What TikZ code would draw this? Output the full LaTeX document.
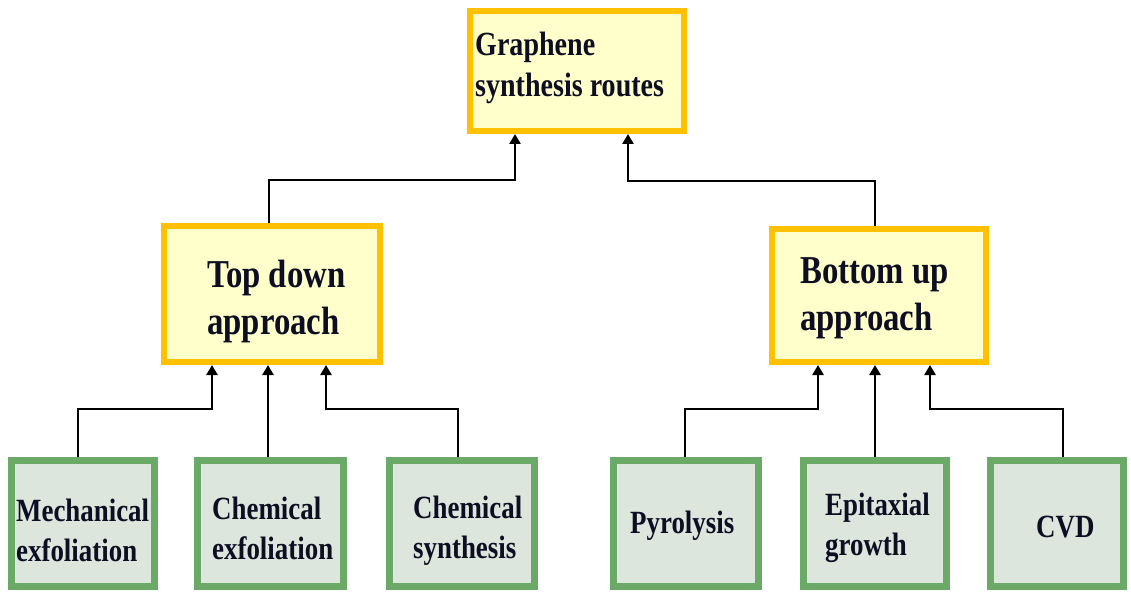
\documentclass[tikz,border=0pt]{standalone}
\usepackage{fontspec}
\setmainfont{Liberation Serif}[FakeStretch=0.83]
\usetikzlibrary{arrows.meta}
\definecolor{ybord}{HTML}{FFC000}
\definecolor{yfill}{HTML}{FFFFCC}
\definecolor{gbord}{HTML}{6AAA66}
\definecolor{gfill}{HTML}{DDE6DD}
\definecolor{ink}{HTML}{0E0E22}
\tikzset{
  ybox/.style={draw=ybord, fill=yfill, line width=6pt, inner sep=0pt},
  gbox/.style={draw=gbord, fill=gfill, line width=7pt, inner sep=0pt,
    minimum height=126},
  words/.style={anchor=west, inner sep=0pt, align=left, text=ink},
  rootfont/.style={font=\fontsize{33.8}{41}\selectfont\bfseries},
  midfont/.style={font=\fontsize{39.5}{47}\selectfont\bfseries},
  leaffont/.style={font=\fontsize{32.4}{40}\selectfont\bfseries},
  link/.style={draw=black, line width=2.6pt,
    -{Triangle[length=10pt,width=11pt]}},
}
\begin{document}
\begin{tikzpicture}[x=1pt,y=-1pt]
\useasboundingbox (0,0) rectangle (1131,593);

% boxes
\node[ybox, minimum width=214, minimum height=120] (root) at (577,71) {};
\node[ybox, minimum width=216, minimum height=136] (td) at (272,294) {};
\node[ybox, minimum width=214, minimum height=133] (bu) at (879,295.5) {};
\node[gbox, minimum width=143] (b1) at (83,523.5) {};
\node[gbox, minimum width=146] (b2) at (270.5,523.5) {};
\node[gbox, minimum width=145] (b3) at (462,523.5) {};
\node[gbox, minimum width=145] (b4) at (686,523.5) {};
\node[gbox, minimum width=143] (b5) at (875,523.5) {};
\node[gbox, minimum width=133] (b6) at (1057,523.5) {};

% box texts
\node[words, rootfont] (rootT) at (475,68) {Graphene\\synthesis routes};
\node[words, midfont] (tdT) at (207,301.5) {Top down\\approach};
\node[words, midfont] (buT) at (800,298) {Bottom up\\approach};
\node[words, leaffont] (b1T) at (16,530) {Mechanical\\exfoliation};
\node[words, leaffont] (b2T) at (212,528) {Chemical\\exfoliation};
\node[words, leaffont] (b3T) at (413,531) {Chemical\\synthesis};
\node[words, leaffont] (b4T) at (630,526) {Pyrolysis};
\node[words, leaffont] (b5T) at (825,528) {Epitaxial\\growth};
\node[words, leaffont] (b6T) at (1036,527) {CVD};

% approaches to root
\draw[link] ([xshift=-3]td.north) -- ++(0,-43) -| ([xshift=-62]root.south);
\draw[link] ([xshift=-4]bu.north) -- ++(0,-45) -| ([xshift=51]root.south);

% methods to top down
\draw[link] ([xshift=-5]b1.north) -- ++(0,-48) -| ([xshift=-60]td.south);
\draw[link] ([xshift=-2.5]b2.north) -- ([xshift=-4]td.south);
\draw[link] ([xshift=-4]b3.north) -- ++(0,-48) -| ([xshift=54]td.south);

% methods to bottom up
\draw[link] ([xshift=-1]b4.north) -- ++(0,-48) -| ([xshift=-61]bu.south);
\draw[link] (b5.north) -- ([xshift=-4]bu.south);
\draw[link] ([xshift=6]b6.north) -- ++(0,-48) -| ([xshift=51]bu.south);
\end{tikzpicture}
\end{document}
